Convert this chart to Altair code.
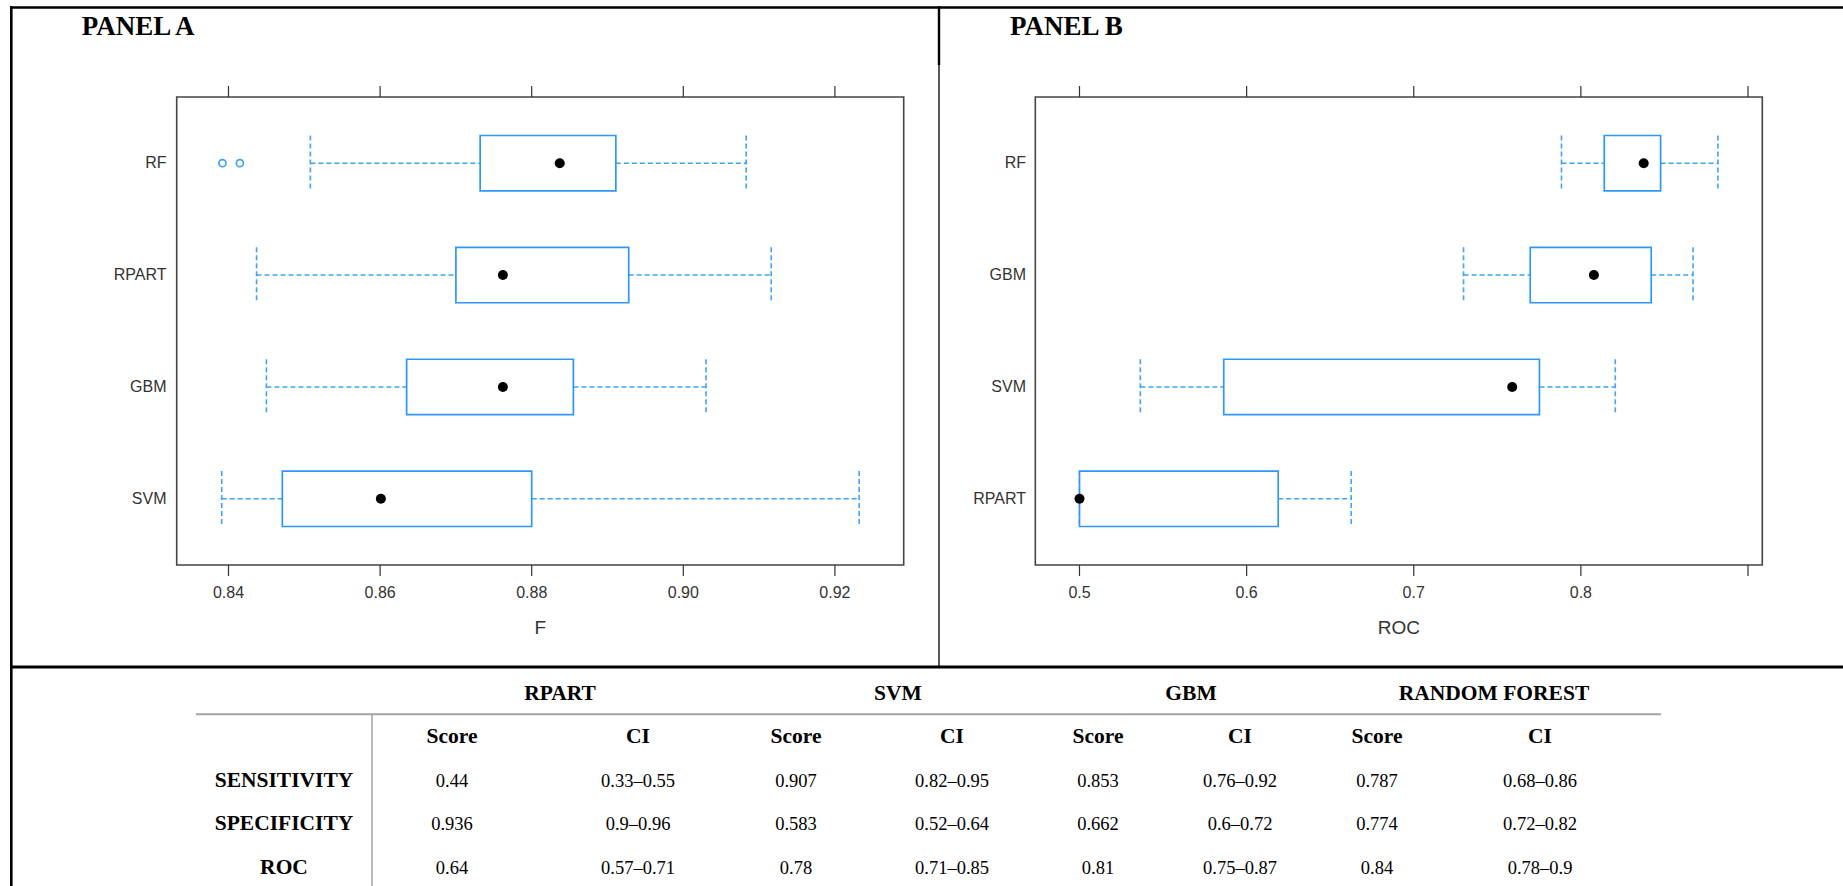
import altair as alt
import pandas as pd

# ---------------- data ----------------
# Panel A : F measure (box-plot summaries)
f_models = ["RF", "RPART", "GBM", "SVM"]
f_low = [0.8508, 0.8437, 0.8450, 0.8391]
f_q1 = [0.8732, 0.8700, 0.8635, 0.8471]
f_med = [0.8837, 0.8762, 0.8762, 0.8601]
f_q3 = [0.8911, 0.8928, 0.8855, 0.8800]
f_high = [0.9083, 0.9116, 0.9030, 0.9232]
f_out_models = ["RF", "RF"]
f_out_values = [0.8392, 0.8415]
f_ticks = [0.84, 0.86, 0.88, 0.90, 0.92]
f_tick_labels = ["0.84", "0.86", "0.88", "0.90", "0.92"]

# Panel B : ROC
roc_models = ["RF", "GBM", "SVM", "RPART"]
roc_low = [0.7884, 0.7298, 0.5364, 0.5000]
roc_q1 = [0.8140, 0.7697, 0.5863, 0.5000]
roc_med = [0.8376, 0.8078, 0.7589, 0.5000]
roc_q3 = [0.8477, 0.8421, 0.7752, 0.6189]
roc_high = [0.8820, 0.8671, 0.8206, 0.6626]
roc_ticks = [0.5, 0.6, 0.7, 0.8, 0.9]
roc_tick_labels = ["0.5", "0.6", "0.7", "0.8", ""]

# Table
table_groups = ["RPART", "SVM", "GBM", "RANDOM FOREST"]
table_subheads = ["Score", "CI"]
table_metrics = ["SENSITIVITY", "SPECIFICITY", "ROC"]
rpart_score = ["0.44", "0.936", "0.64"]
rpart_ci = ["0.33–0.55", "0.9–0.96", "0.57–0.71"]
svm_score = ["0.907", "0.583", "0.78"]
svm_ci = ["0.82–0.95", "0.52–0.64", "0.71–0.85"]
gbm_score = ["0.853", "0.662", "0.81"]
gbm_ci = ["0.76–0.92", "0.6–0.72", "0.75–0.87"]
rf_score = ["0.787", "0.774", "0.84"]
rf_ci = ["0.68–0.86", "0.72–0.82", "0.78–0.9"]

# ---------------- layout / style ----------------
W, H = 1843, 886
PLOT_Y = [97, 565]
BOX_HALF = 27.7
BOX_COL = "#2f97f7"
WHISK_COL = "#3ea3f7"
FRAME_COL = "#444444"
AXIS_COL = "#333333"
SANS = "Liberation Sans"
SERIF = "Liberation Serif"

A_LAYOUT = dict(domain=[0.833166, 0.929077], xrange=[176.7, 903.7],
                label_x=166.5, title_x=81.7, title="PANEL A", axis_title="F")
B_LAYOUT = dict(domain=[0.47355, 0.90856], xrange=[1035.3, 1762.3],
                label_x=1026, title_x=1010, title="PANEL B", axis_title="ROC")

one = pd.DataFrame({"k": [0]})


def panel(models, lo, q1, med, q3, hi, ticks, tick_labels, out_m, out_v, lay):
    df = pd.DataFrame(dict(model=models, lo=lo, q1=q1, med=med, q3=q3, hi=hi))
    xs = alt.Scale(domain=lay["domain"], range=lay["xrange"], nice=False, zero=False)
    ys = alt.Scale(type="point", domain=models, range=PLOT_Y, padding=0.592)

    def X(f):
        return alt.X(f"{f}:Q", scale=xs, axis=None)

    Y = alt.Y("model:N", scale=ys, axis=None)
    dash = [5, 3]
    layers = []
    # frame
    layers.append(alt.Chart(one).mark_rect(fillOpacity=0, stroke=FRAME_COL, strokeWidth=1.6).encode(
        x=alt.value(lay["xrange"][0]), x2=alt.value(lay["xrange"][1]),
        y=alt.value(PLOT_Y[0]), y2=alt.value(PLOT_Y[1])))
    # whiskers
    layers.append(alt.Chart(df).mark_rule(color=WHISK_COL, strokeWidth=1.6, strokeDash=dash).encode(
        x=X("lo"), x2="q1", y=Y))
    layers.append(alt.Chart(df).mark_rule(color=WHISK_COL, strokeWidth=1.6, strokeDash=dash).encode(
        x=X("q3"), x2="hi", y=Y))
    # whisker caps
    for f in ["lo", "hi"]:
        layers.append(alt.Chart(df).mark_rule(color=WHISK_COL, strokeWidth=1.6, strokeDash=dash,
                                              yOffset=-BOX_HALF, y2Offset=BOX_HALF).encode(
            x=X(f), y=Y, y2="model"))
    # boxes
    layers.append(alt.Chart(df).mark_rect(fill="white", stroke=BOX_COL, strokeWidth=1.7,
                                          yOffset=-BOX_HALF, y2Offset=BOX_HALF).encode(
        x=X("q1"), x2="q3", y=Y, y2="model"))
    # medians
    layers.append(alt.Chart(df).mark_circle(size=100, color="black", opacity=1).encode(x=X("med"), y=Y))
    # outliers
    if out_v:
        od = pd.DataFrame(dict(model=out_m, v=out_v))
        layers.append(alt.Chart(od).mark_point(shape="circle", size=50, filled=False,
                                               strokeWidth=1.7, color=WHISK_COL, opacity=1).encode(
            x=X("v"), y=Y))
    # axis ticks & labels
    td = pd.DataFrame(dict(v=ticks, label=tick_labels))
    layers.append(alt.Chart(td).mark_rule(color=AXIS_COL, strokeWidth=1.2).encode(
        x=X("v"), y=alt.value(86), y2=alt.value(PLOT_Y[0])))
    layers.append(alt.Chart(td).mark_rule(color=AXIS_COL, strokeWidth=1.2).encode(
        x=X("v"), y=alt.value(PLOT_Y[1]), y2=alt.value(576)))
    layers.append(alt.Chart(td).mark_text(font=SANS, fontSize=16, color=AXIS_COL, baseline="middle").encode(
        x=X("v"), y=alt.value(593), text="label:N"))
    # category labels
    layers.append(alt.Chart(df).mark_text(font=SANS, fontSize=16, color=AXIS_COL, align="right",
                                          baseline="middle").encode(
        x=alt.value(lay["label_x"]), y=Y, text="model:N"))
    # axis title
    layers.append(alt.Chart(pd.DataFrame({"t": [lay["axis_title"]]})).mark_text(
        font=SANS, fontSize=19, color=AXIS_COL, baseline="middle").encode(
        x=alt.value((lay["xrange"][0] + lay["xrange"][1]) / 2), y=alt.value(627.5), text="t:N"))
    # panel title
    layers.append(alt.Chart(pd.DataFrame({"t": [lay["title"]]})).mark_text(
        font=SERIF, fontSize=27, fontWeight="bold", color="black", align="left",
        baseline="alphabetic").encode(x=alt.value(lay["title_x"]), y=alt.value(35), text="t:N"))
    return layers


layers = []
layers += panel(f_models, f_low, f_q1, f_med, f_q3, f_high, f_ticks, f_tick_labels,
                f_out_models, f_out_values, A_LAYOUT)
layers += panel(roc_models, roc_low, roc_q1, roc_med, roc_q3, roc_high, roc_ticks, roc_tick_labels,
                [], [], B_LAYOUT)

# ---------------- table ----------------
row_scale = alt.Scale(type="point", domain=["grp", "sub"] + table_metrics, range=[693.5, 867.7], padding=0)
col_scale = alt.Scale(domain=list(range(8)), range=[452, 638, 796, 952, 1098, 1240, 1377, 1540],
                      nice=False, zero=False)
grp_scale = alt.Scale(domain=[0, 1, 2, 3], range=[560, 898, 1191, 1494], nice=False, zero=False)

grp_df = pd.DataFrame(dict(gi=list(range(4)), text=table_groups, row="grp"))
sub_df = pd.DataFrame(dict(ci=list(range(8)), text=table_subheads * 4, row="sub"))
cols = [rpart_score, rpart_ci, svm_score, svm_ci, gbm_score, gbm_ci, rf_score, rf_ci]
val_rows = []
for ci, col in enumerate(cols):
    for mi, m in enumerate(table_metrics):
        val_rows.append(dict(ci=ci, row=m, text=col[mi]))
val_df = pd.DataFrame(val_rows)
met_df = pd.DataFrame(dict(row=table_metrics, text=table_metrics))

bold = dict(font=SERIF, fontSize=21.5, fontWeight="bold", color="black", baseline="middle")
layers.append(alt.Chart(grp_df).mark_text(**bold).encode(
    x=alt.X("gi:Q", scale=grp_scale, axis=None), y=alt.Y("row:N", scale=row_scale, axis=None), text="text:N"))
layers.append(alt.Chart(sub_df).mark_text(**bold).encode(
    x=alt.X("ci:Q", scale=col_scale, axis=None), y=alt.Y("row:N", scale=row_scale, axis=None), text="text:N"))
layers.append(alt.Chart(met_df).mark_text(**bold).encode(
    x=alt.value(284), y=alt.Y("row:N", scale=row_scale, axis=None), text="text:N"))
layers.append(alt.Chart(val_df).mark_text(font=SERIF, fontSize=18.5, color="black", baseline="middle").encode(
    x=alt.X("ci:Q", scale=col_scale, axis=None), y=alt.Y("row:N", scale=row_scale, axis=None), text="text:N"))

# table rules
layers.append(alt.Chart(one).mark_rule(color="#a3a3a3", strokeWidth=2).encode(
    x=alt.value(196), x2=alt.value(1661), y=alt.value(714.3)))
layers.append(alt.Chart(one).mark_rule(color="#a3a3a3", strokeWidth=1.5).encode(
    x=alt.value(372), y=alt.value(714.3), y2=alt.value(H)))

# outer black borders
layers.append(alt.Chart(one).mark_rule(color="black", strokeWidth=2.6).encode(
    x=alt.value(10), x2=alt.value(W), y=alt.value(7.5)))
layers.append(alt.Chart(one).mark_rule(color="black", strokeWidth=2.6).encode(
    x=alt.value(11.3), y=alt.value(6.2), y2=alt.value(H)))
layers.append(alt.Chart(one).mark_rule(color="black", strokeWidth=2.4).encode(
    x=alt.value(939), y=alt.value(6.2), y2=alt.value(65)))
layers.append(alt.Chart(one).mark_rule(color="black", strokeWidth=1.3).encode(
    x=alt.value(939), y=alt.value(65), y2=alt.value(667)))
layers.append(alt.Chart(one).mark_rule(color="black", strokeWidth=3).encode(
    x=alt.value(10), x2=alt.value(W), y=alt.value(667)))

chart = alt.layer(*layers).resolve_scale(x="independent", y="independent").properties(
    width=W, height=H, padding=0, autosize=alt.AutoSizeParams(type="none"),
    background="white",
).configure_view(stroke=None)

chart.save("out.html", embed_options={"renderer": "svg", "actions": False})
